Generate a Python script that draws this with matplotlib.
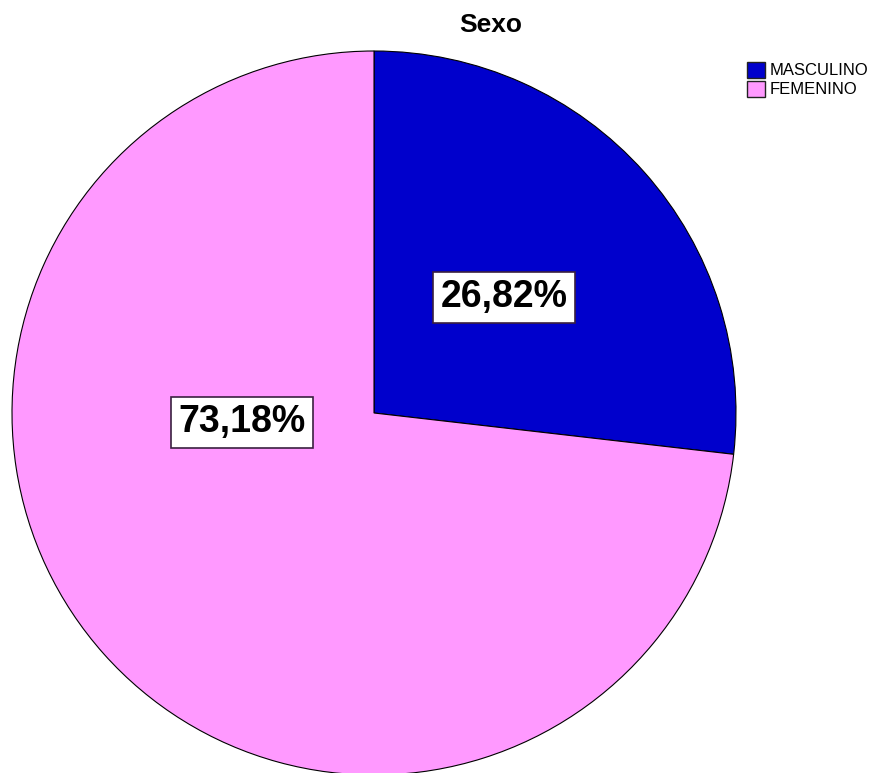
import matplotlib.pyplot as plt
from matplotlib.patches import Patch

plt.rcParams['font.family'] = ['Liberation Sans', 'DejaVu Sans']

categorias = ['MASCULINO', 'FEMENINO']
porcentajes = [26.82, 73.18]
colores = ['#0000CC', '#FF99FF']
# posición de cada etiqueta (fracción del radio, en coordenadas del pastel)
pos_etiquetas = [(0.36, 0.32), (-0.364, -0.025)]

W, H = 894, 773
fig = plt.figure(figsize=(W / 100, H / 100), dpi=100)

# el círculo ocupa un cuadrado de 724 px centrado en (374, 413)
cx, cy, r = 374, 413, 362
ax = fig.add_axes([(cx - r) / W, (H - cy - r) / H, 2 * r / W, 2 * r / H])

wedges, _ = ax.pie(porcentajes, colors=colores, startangle=90, counterclock=False,
                   radius=1, wedgeprops=dict(edgecolor='black', linewidth=0.8))
ax.set_xlim(-1, 1)
ax.set_ylim(-1, 1)
ax.set_aspect('auto')
ax.axis('off')

for p, (x, y) in zip(porcentajes, pos_etiquetas):
    ax.text(x, y, f'{p:.2f}%'.replace('.', ','), ha='center', va='center',
            fontsize=27, fontweight='bold', color='black',
            bbox=dict(boxstyle='square,pad=0.2', facecolor='white',
                      edgecolor='#3a2040', linewidth=1.2))

fig.text(491 / W, 1 - 25 / H, 'Sexo', ha='center', va='center',
         fontsize=19, fontweight='bold')

handles = [Patch(facecolor=c, edgecolor='#222222', linewidth=1) for c in colores]
fig.legend(handles, categorias, loc='upper left', bbox_to_anchor=(740 / W, 1 - 55 / H),
           frameon=False, fontsize=12, handlelength=1.1, handleheight=1.1,
           handletextpad=0.3, labelspacing=0.15, borderaxespad=0)

fig.savefig('out.png', dpi=100)
